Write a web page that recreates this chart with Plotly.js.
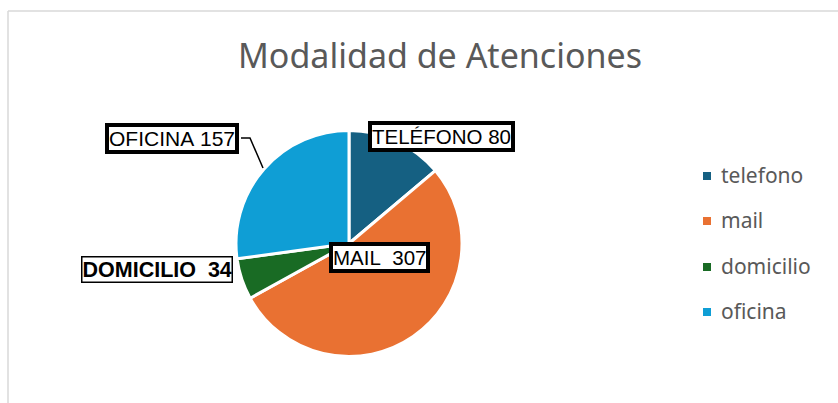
<!DOCTYPE html>
<html>
<head>
<meta charset="utf-8">
<script src="https://cdn.plot.ly/plotly-3.0.1.min.js"></script>
<style>
html,body{margin:0;padding:0;background:#fff;}
#chart{width:838px;height:403px;}
</style>
</head>
<body>
<div id="chart"></div>
<script>
// Data
const categories = ["telefono", "mail", "domicilio", "oficina"];
const values = [80, 307, 34, 157];
const labelNames = ["TELÉFONO", "MAIL ", "DOMICILIO ", "OFICINA"];
const colors = ["#156082", "#E97132", "#196B24", "#0F9ED5"];

const W = 838, H = 403;
const px = x => x / W;
const py = y => 1 - y / H;

const pie = {
  type: "pie",
  labels: categories,
  values: values,
  sort: false,
  direction: "clockwise",
  rotation: 0,
  textinfo: "none",
  hoverinfo: "label+value",
  marker: { colors: colors, line: { color: "#ffffff", width: 3 } },
  domain: { x: [px(236), px(462)], y: [py(357), py(130)] },
  showlegend: false
};

// data-label boxes (positions are layout, text from data)
const labelPos = [
  { x: 442, y: 136, bw: 4, bold: false, size: 20.5 },
  { x: 379, y: 257, bw: 4, bold: false, size: 20.5 },
  { x: 157, y: 269, bw: 1.5, bold: true, size: 21.5 },
  { x: 172, y: 138, bw: 4, bold: false, size: 21 }
];

const annotations = [];
labelNames.forEach((n, i) => {
  const p = labelPos[i];
  const txt = n.replace(/ /g, "&nbsp;") + "&nbsp;" + values[i];
  annotations.push({
    xref: "paper", yref: "paper",
    x: px(p.x), y: py(p.y),
    xanchor: "center", yanchor: "middle",
    text: p.bold ? "<b>" + txt + "</b>" : txt,
    showarrow: false,
    font: { family: "Liberation Sans, Arial, sans-serif", size: p.size, color: "#000" },
    bgcolor: "#ffffff",
    bordercolor: "#000000",
    borderwidth: p.bw,
    borderpad: 0
  });
});

// custom legend
const legendY = [175, 220, 266, 311];
const shapes = [];
categories.forEach((c, i) => {
  annotations.push({
    xref: "paper", yref: "paper",
    x: px(719), y: py(legendY[i]),
    xanchor: "left", yanchor: "middle",
    text: c, showarrow: false,
    font: { family: "Noto Sans, sans-serif", size: 21, color: "#595959" }
  });
  shapes.push({
    type: "rect", xref: "paper", yref: "paper",
    x0: px(703), x1: px(711), y0: py(legendY[i] + 5), y1: py(legendY[i] - 3),
    fillcolor: colors[i], line: { width: 0 }
  });
});

// frame lines
shapes.push({ type: "line", xref: "paper", yref: "paper", x0: px(8), x1: 1, y0: py(11), y1: py(11), line: { color: "#d9d9d9", width: 1.5 } });
shapes.push({ type: "line", xref: "paper", yref: "paper", x0: px(8), x1: px(8), y0: py(11), y1: 0, line: { color: "#d9d9d9", width: 1.5 } });
// leader line for oficina
shapes.push({
  type: "path", xref: "paper", yref: "paper",
  path: `M ${px(241)} ${py(138)} L ${px(250)} ${py(138)} L ${px(263)} ${py(168)}`,
  line: { color: "#000", width: 1.5 }
});

const layout = {
  width: W, height: H,
  margin: { l: 0, r: 0, t: 0, b: 0 },
  paper_bgcolor: "#ffffff",
  title: {
    text: "Modalidad de Atenciones",
    x: px(440), xanchor: "center",
    y: py(56), yanchor: "middle",
    font: { family: "Noto Sans, sans-serif", size: 34, color: "#595959" }
  },
  annotations: annotations,
  shapes: shapes,
  showlegend: false
};

Plotly.newPlot("chart", [pie], layout, { displayModeBar: false, staticPlot: true });
</script>
</body>
</html>
